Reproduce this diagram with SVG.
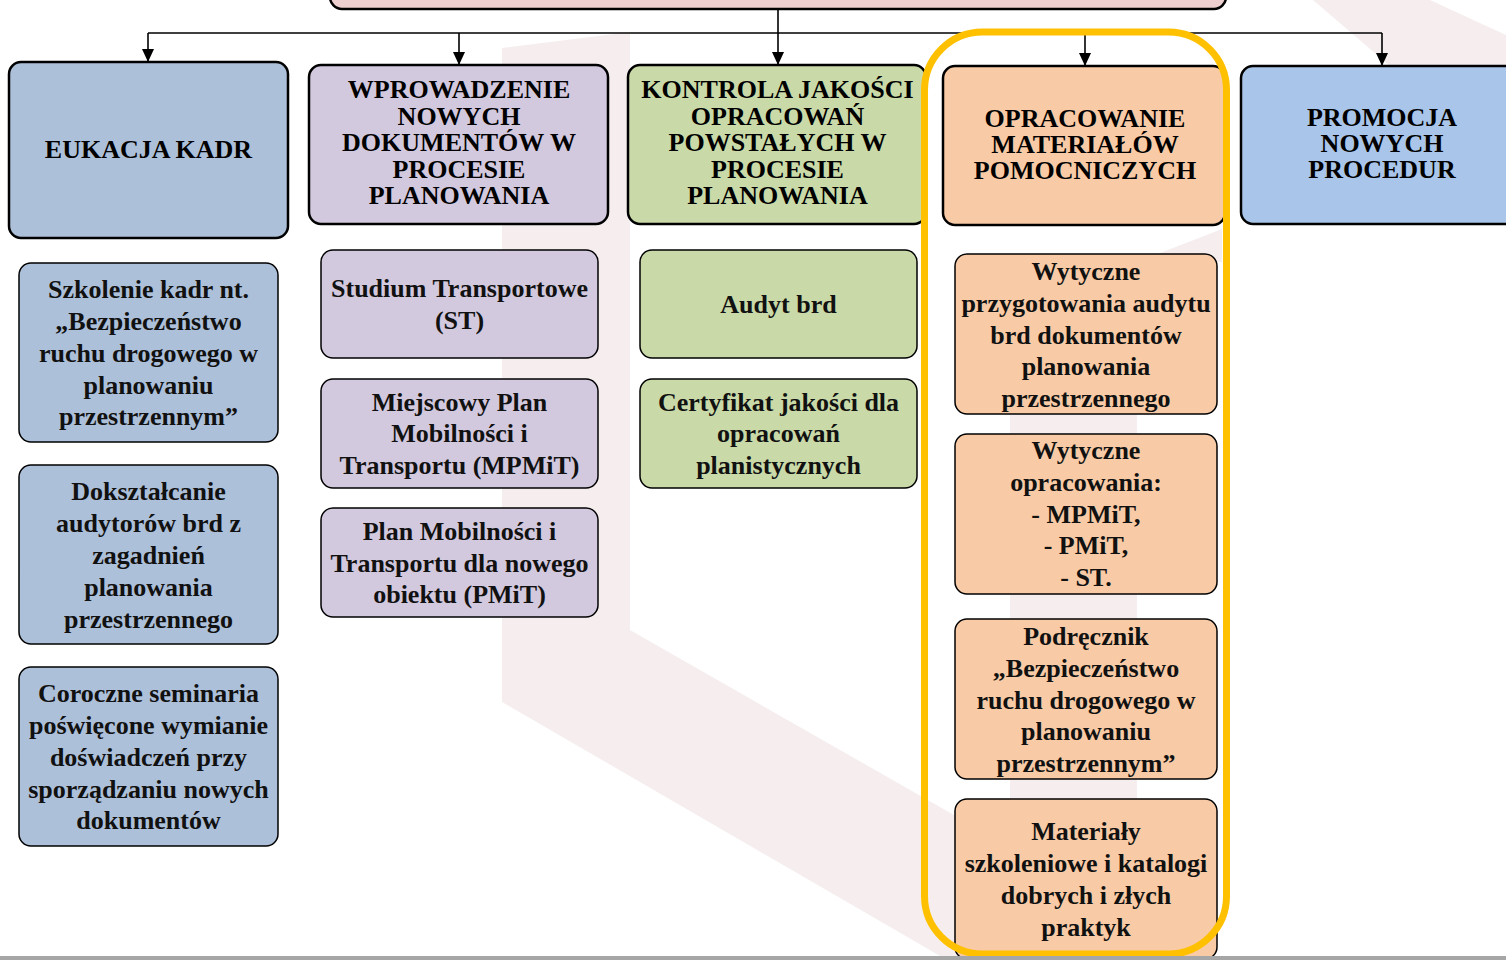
<svg xmlns="http://www.w3.org/2000/svg" width="1506" height="960" viewBox="0 0 1506 960">
<defs>
<style>
.wm{fill:#f6eeee}
.hb{stroke:#000;stroke-width:2.5}
.sb{stroke:#000;stroke-width:1.5}
.blue{fill:#adc0da}
.lav{fill:#d3c9df}
.grn{fill:#c9daa8}
.pch{fill:#f8cba6}
.lb{fill:#a9c6ea}
.h{font-family:"Liberation Serif","Times New Roman",serif;font-weight:bold;font-size:26px;text-anchor:middle;fill:#000}
.t{font-family:"Liberation Serif","Times New Roman",serif;font-weight:bold;font-size:26px;text-anchor:middle;fill:#111}
.con{stroke:#000;stroke-width:1.6;fill:none}
</style>
<marker id="arr" markerUnits="userSpaceOnUse" markerWidth="13" markerHeight="12" viewBox="0 0 13 12" refX="13" refY="6" orient="auto">
<path d="M0,0 L13,6 L0,12 z" fill="#000"/>
</marker>
</defs>
<rect x="0" y="0" width="1506" height="960" fill="#ffffff"/>
<g id="watermark">
<polygon class="wm" points="502,48 630,32 630,630 1010,847 1010,310 1137,262 1137,960 947,960 502,702"/>
<polygon class="wm" points="1137,262 1222,229 1222,262"/>
<polygon class="wm" points="1313,0 1430,0 1506,35 1506,66 1390,66"/>
</g>
<g id="top">
<rect class="hb" x="330" y="-40" width="896" height="49" rx="12" fill="#eccfce"/>
</g>
<g id="connectors">
<path class="con" d="M778,9 V65" marker-end="url(#arr)"/>
<path class="con" d="M148,33 H1382"/>
<path class="con" d="M148,33 V62" marker-end="url(#arr)"/>
<path class="con" d="M459,33 V65" marker-end="url(#arr)"/>
<path class="con" d="M1085,33 V66" marker-end="url(#arr)"/>
<path class="con" d="M1382,33 V66" marker-end="url(#arr)"/>
</g>
<g id="h1">
<rect class="hb blue" x="9" y="62" width="279" height="176" rx="12"/>
<text class="h" x="148.5" y="158">EUKACJA KADR</text>
</g>
<g id="h2">
<rect class="hb lav" x="309" y="65" width="299" height="159" rx="12"/>
<text class="h" x="459" y="98">WPROWADZENIE</text>
<text class="h" x="459" y="125">NOWYCH</text>
<text class="h" x="459" y="151">DOKUMENTÓW W</text>
<text class="h" x="459" y="178">PROCESIE</text>
<text class="h" x="459" y="204">PLANOWANIA</text>
</g>
<g id="h3">
<rect class="hb grn" x="628" y="65" width="298" height="159" rx="12"/>
<text class="h" x="777.5" y="98">KONTROLA JAKOŚCI</text>
<text class="h" x="777.5" y="125">OPRACOWAŃ</text>
<text class="h" x="777.5" y="151">POWSTAŁYCH W</text>
<text class="h" x="777.5" y="178">PROCESIE</text>
<text class="h" x="777.5" y="204">PLANOWANIA</text>
</g>
<g id="h4">
<rect class="hb pch" x="943" y="66" width="282" height="159" rx="12"/>
<text class="h" x="1085" y="127">OPRACOWANIE</text>
<text class="h" x="1085" y="153">MATERIAŁÓW</text>
<text class="h" x="1085" y="179">POMOCNICZYCH</text>
</g>
<g id="h5">
<rect class="hb lb" x="1241" y="66" width="285" height="158" rx="12"/>
<text class="h" x="1382" y="126">PROMOCJA</text>
<text class="h" x="1382" y="152">NOWYCH</text>
<text class="h" x="1382" y="178">PROCEDUR</text>
</g>
<g id="c1a">
<rect class="sb blue" x="19" y="263" width="259" height="179" rx="12"/>
<text class="t" x="148.5" y="297.5">Szkolenie kadr nt.</text>
<text class="t" x="148.5" y="329.5">„Bezpieczeństwo</text>
<text class="t" x="148.5" y="361.5">ruchu drogowego w</text>
<text class="t" x="148.5" y="393.5">planowaniu</text>
<text class="t" x="148.5" y="424.5">przestrzennym”</text>
</g>
<g id="c1b">
<rect class="sb blue" x="19" y="465" width="259" height="179" rx="12"/>
<text class="t" x="148.5" y="499.5">Dokształcanie</text>
<text class="t" x="148.5" y="531.5">audytorów brd z</text>
<text class="t" x="148.5" y="563.5">zagadnień</text>
<text class="t" x="148.5" y="595.5">planowania</text>
<text class="t" x="148.5" y="627.5">przestrzennego</text>
</g>
<g id="c1c">
<rect class="sb blue" x="19" y="667" width="259" height="179" rx="12"/>
<text class="t" x="148.5" y="701.5">Coroczne seminaria</text>
<text class="t" x="148.5" y="733.5">poświęcone wymianie</text>
<text class="t" x="148.5" y="765.5">doświadczeń przy</text>
<text class="t" x="148.5" y="797.5">sporządzaniu nowych</text>
<text class="t" x="148.5" y="828.5">dokumentów</text>
</g>
<g id="c2a">
<rect class="sb lav" x="321" y="250" width="277" height="108" rx="12"/>
<text class="t" x="459.5" y="296.5">Studium Transportowe</text>
<text class="t" x="459.5" y="328.5">(ST)</text>
</g>
<g id="c2b">
<rect class="sb lav" x="321" y="379" width="277" height="109" rx="12"/>
<text class="t" x="459.5" y="410.5">Miejscowy Plan</text>
<text class="t" x="459.5" y="441.5">Mobilności i</text>
<text class="t" x="459.5" y="473.5">Transportu (MPMiT)</text>
</g>
<g id="c2c">
<rect class="sb lav" x="321" y="508" width="277" height="109" rx="12"/>
<text class="t" x="459.5" y="539.5">Plan Mobilności i</text>
<text class="t" x="459.5" y="571.5">Transportu dla nowego</text>
<text class="t" x="459.5" y="602.5">obiektu (PMiT)</text>
</g>
<g id="c3a">
<rect class="sb grn" x="640" y="250" width="277" height="108" rx="12"/>
<text class="t" x="778.5" y="312.5">Audyt brd</text>
</g>
<g id="c3b">
<rect class="sb grn" x="640" y="379" width="277" height="109" rx="12"/>
<text class="t" x="778.5" y="410.5">Certyfikat jakości dla</text>
<text class="t" x="778.5" y="441.5">opracowań</text>
<text class="t" x="778.5" y="473.5">planistycznych</text>
</g>
<g id="c4a">
<rect class="sb pch" x="955" y="254" width="262" height="160" rx="12"/>
<text class="t" x="1086" y="279.5">Wytyczne</text>
<text class="t" x="1086" y="311.5">przygotowania audytu</text>
<text class="t" x="1086" y="343.5">brd dokumentów</text>
<text class="t" x="1086" y="374.5">planowania</text>
<text class="t" x="1086" y="406.5">przestrzennego</text>
</g>
<g id="c4b">
<rect class="sb pch" x="955" y="434" width="262" height="160" rx="12"/>
<text class="t" x="1086" y="458.5">Wytyczne</text>
<text class="t" x="1086" y="490.5">opracowania:</text>
<text class="t" x="1086" y="522.5">- MPMiT,</text>
<text class="t" x="1086" y="553.5">- PMiT,</text>
<text class="t" x="1086" y="585.5">- ST.</text>
</g>
<g id="c4c">
<rect class="sb pch" x="955" y="619" width="262" height="160" rx="12"/>
<text class="t" x="1086" y="644.5">Podręcznik</text>
<text class="t" x="1086" y="676.5">„Bezpieczeństwo</text>
<text class="t" x="1086" y="708.5">ruchu drogowego w</text>
<text class="t" x="1086" y="739.5">planowaniu</text>
<text class="t" x="1086" y="771.5">przestrzennym”</text>
</g>
<g id="c4d">
<rect class="sb pch" x="955" y="799" width="262" height="160" rx="12"/>
<text class="t" x="1086" y="839.5">Materiały</text>
<text class="t" x="1086" y="871.5">szkoleniowe i katalogi</text>
<text class="t" x="1086" y="903.5">dobrych i złych</text>
<text class="t" x="1086" y="935.5">praktyk</text>
</g>
<g id="highlight">
<rect x="924.5" y="32" width="302" height="922" rx="58" fill="none" stroke="#ffc000" stroke-width="7"/>
</g>
<rect x="0" y="956" width="1506" height="4" fill="#a6a6a6"/>
</svg>
